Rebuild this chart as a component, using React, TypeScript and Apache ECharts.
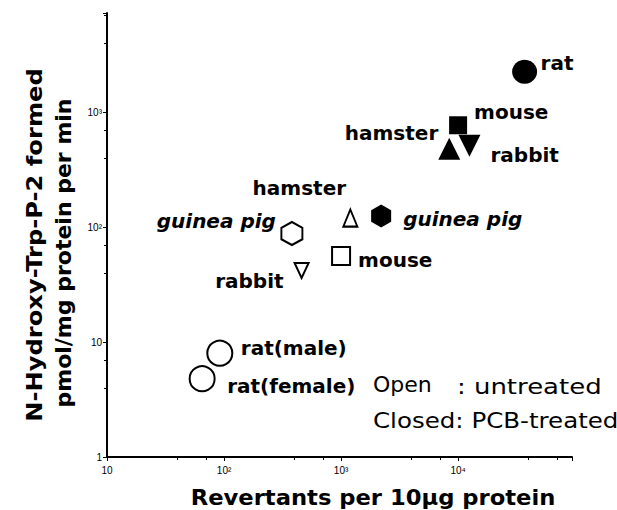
import React, { useEffect, useRef } from 'react';
import * as echarts from 'echarts';

// ---- data ----
const openSpecies = ['rat(male)', 'rat(female)', 'guinea pig', 'hamster', 'mouse', 'rabbit'];
const openRevertants = [92, 65, 380, 1200, 1000, 460];
const openHydroxy = [8.0, 4.8, 88, 120, 56, 42];

const closedSpecies = ['rat', 'guinea pig', 'mouse', 'hamster', 'rabbit'];
const closedRevertants = [37000, 2200, 10000, 8400, 12500];
const closedHydroxy = [2250, 125, 770, 480, 510];

const xTickLabels = ['10', '10²', '10³', '10⁴']; // 10^1 .. 10^4
const yTickLabels = ['1', '10', '10²', '10³']; // 10^0 .. 10^3

const xTitle = 'Revertants per 10μg protein';
const yTitleLines = ['N-Hydroxy-Trp-P-2 formed', 'pmol/mg protein per min'];
const legendOpen = ['Open', ': untreated'];
const legendClosed = 'Closed: PCB-treated';

// ---- styles ----
const HEX = 'path://M0,-10L8.66,-5L8.66,5L0,10L-8.66,5L-8.66,-5Z';
const shapeOf: Record<string, { symbol: string; rotate: number }> = {
  rat: { symbol: 'circle', rotate: 0 },
  'rat(male)': { symbol: 'circle', rotate: 0 },
  'rat(female)': { symbol: 'circle', rotate: 0 },
  'guinea pig': { symbol: HEX, rotate: 0 },
  hamster: { symbol: 'triangle', rotate: 0 },
  mouse: { symbol: 'rect', rotate: 0 },
  rabbit: { symbol: 'triangle', rotate: 180 },
};
const openSizes = [[25, 25], [25, 25], [21, 23], [14, 17], [18, 18], [14, 15]];
const closedSizes = [[25, 24], [20, 23], [18, 18], [22, 22], [22, 22]];
const openLabelStyle = [
  { align: 'left', offset: [21, -5] },
  { align: 'left', offset: [25, 7] },
  { align: 'right', offset: [-16, -13] },
  { align: 'center', offset: [-51, -30] },
  { align: 'left', offset: [17, 4] },
  { align: 'right', offset: [-18, 11] },
];
const closedLabelStyle = [
  { align: 'left', offset: [16, -9] },
  { align: 'left', offset: [22, 3] },
  { align: 'left', offset: [16, -13] },
  { align: 'right', offset: [-11, -16] },
  { align: 'left', offset: [21, 9] },
];

const FONT = '"DejaVu Sans", sans-serif';

function buildData(names: string[], xs: number[], ys: number[], sizes: number[][], labels: any[]) {
  return names.map((name, i) => ({
    name,
    value: [xs[i], ys[i]],
    symbol: shapeOf[name].symbol,
    symbolRotate: shapeOf[name].rotate,
    symbolSize: sizes[i],
    label: {
      show: true,
      position: 'inside',
      formatter: '{b}',
      align: labels[i].align,
      verticalAlign: 'middle',
      offset: labels[i].offset,
      color: '#000',
      opacity: 1,
      textBorderWidth: 0,
      fontFamily: FONT,
      fontWeight: 'bold',
      fontSize: 20,
      fontStyle: name === 'guinea pig' ? 'italic' : 'normal',
    },
  }));
}

function powLabel(v: number, labels: string[], first: number) {
  const l = Math.log10(v);
  const e = Math.round(l);
  if (Math.abs(l - e) > 1e-6) return '';
  return labels[e - first] ?? '';
}

function txt(text: string, x: number, y: number, font: string, extra: any = {}) {
  return {
    type: 'text',
    x,
    y,
    ...extra,
    style: {
      text,
      font,
      fill: '#000',
      align: extra.align || 'center',
      verticalAlign: 'middle',
      textAlign: extra.align || 'center',
      textVerticalAlign: 'middle',
    },
  };
}

export default function App() {
  const ref = useRef<HTMLDivElement>(null);
  useEffect(() => {
    if (!ref.current) return;
    const chart = echarts.init(ref.current, undefined, { renderer: 'svg' });
    const axisCommon = {
      axisLine: { show: true, lineStyle: { color: '#000', width: 2 } },
      axisTick: { show: true, inside: false, length: 4, lineStyle: { color: '#000', width: 1 } },
      minorTick: { show: true, splitNumber: 3, length: 3, lineStyle: { color: '#000', width: 1 } },
      splitLine: { show: false },
      minorSplitLine: { show: false },
    };
    const tickFont = { color: '#000', fontFamily: '"Liberation Sans", sans-serif', fontSize: 10 };
    chart.setOption({
      animation: false,
      backgroundColor: '#fff',
      grid: { left: 107, right: 45, top: 13, bottom: 53, containLabel: false, outerBoundsMode: 'none' },
      xAxis: {
        type: 'log',
        logBase: 10,
        min: 10,
        max: 94000,
        ...axisCommon,
        axisLabel: {
          margin: 8,
          showMaxLabel: false,
          ...tickFont,
          formatter: (v: number) => powLabel(v, xTickLabels, 1),
        },
      },
      yAxis: {
        type: 'log',
        logBase: 10,
        min: 1,
        max: 7300,
        ...axisCommon,
        axisLabel: {
          margin: 5,
          showMaxLabel: false,
          ...tickFont,
          formatter: (v: number) => powLabel(v, yTickLabels, 0),
        },
      },
      series: [
        {
          name: 'untreated',
          type: 'scatter',
          silent: true,
          itemStyle: { color: '#fff', borderColor: '#000', borderWidth: 2, opacity: 1 },
          data: buildData(openSpecies, openRevertants, openHydroxy, openSizes, openLabelStyle),
        },
        {
          name: 'PCB-treated',
          type: 'scatter',
          silent: true,
          itemStyle: { color: '#000', borderColor: '#000', borderWidth: 0, opacity: 1 },
          data: buildData(closedSpecies, closedRevertants, closedHydroxy, closedSizes, closedLabelStyle),
        },
      ],
      graphic: [
        txt(yTitleLines[0], 34, 245, `bold 22px ${FONT}`, { rotation: Math.PI / 2, scaleX: 1.1 }),
        txt(yTitleLines[1], 63, 253, `bold 22px ${FONT}`, { rotation: Math.PI / 2 }),
        txt(xTitle, 373, 497, `bold 22px ${FONT}`, { scaleX: 1.03 }),
        txt(legendOpen[0], 373, 384, `22px ${FONT}`, { align: 'left' }),
        txt(legendOpen[1], 457, 387, `22px ${FONT}`, { align: 'left', scaleX: 1.18 }),
        txt(legendClosed, 373, 420, `22px ${FONT}`, { align: 'left', scaleX: 1.115 }),
      ],
    });
    return () => chart.dispose();
  }, []);
  return <div ref={ref} style={{ position: 'fixed', left: 0, top: 0, width: 617, height: 510 }} />;
}
